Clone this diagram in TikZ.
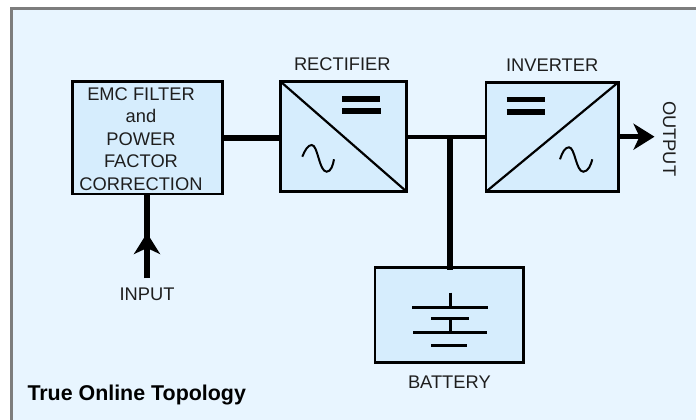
\documentclass[tikz,border=0pt]{standalone}
\usepackage{fontspec}
\setmainfont{Liberation Sans}
\usetikzlibrary{arrows.meta, positioning}
\definecolor{panelc}{RGB}{232,245,255}
\definecolor{blockc}{RGB}{214,237,253}
\definecolor{framec}{RGB}{125,125,125}
\definecolor{inkc}{RGB}{30,30,30}
\tikzset{
	block/.style={draw=black,line width=2.5pt,fill=blockc,inner sep=0pt,outer sep=0pt,anchor=north west},
	label/.style={font=\fontsize{18.3}{22.5}\selectfont,text=inkc,inner sep=0pt,outer sep=0pt},
	bus/.style={line width=5.5pt},
	arrowed/.style={line width=5.5pt,-{Stealth[length=21pt,width=26pt,inset=6pt]}},
	rail/.style={line width=5.5pt},
	cell/.style={line width=3pt},
	wave/.style={line width=2pt}
}
\begin{document}
\begin{tikzpicture}[x=1pt,y=-1pt]
	\useasboundingbox (0,0) rectangle (696,420);
	% panel, ruled on top and left only
	\fill[panelc] (11,8.5) rectangle (696,420);
	\draw[framec,line width=3pt] (11.3,420) -- (11.3,8.4) -- (696,8.4);
	% blocks
	\node[block,minimum width=150.4pt,minimum height=112.3pt] (emc) at (72.3,81.7) {};
	\node[block,minimum width=126pt,minimum height=110pt] (rect) at (280.7,81.7) {};
	\node[block,minimum width=132.3pt,minimum height=109.4pt] (inv) at (486,82.3) {};
	\node[block,minimum width=148.7pt,minimum height=95pt] (batt) at (375,267.3) {};
	% names
	\node[label,align=center,anchor=north,xshift=-6.5pt,yshift=-5.6pt] (emcname) at (emc.north) {EMC FILTER\\and\\POWER\\FACTOR\\CORRECTION};
	\node[label,above=10.7pt of rect.north,xshift=-1.4pt] (rectname) {RECTIFIER};
	\node[label,above=10.7pt of inv.north] (invname) {INVERTER};
	\node[label,below=13.6pt of batt.south] (battname) {BATTERY};
	\node[label] (inname) at (147,294) {INPUT};
	\node[label,rotate=-90] (outname) at (669.5,138.7) {OUTPUT};
	\node[font=\fontsize{21.4}{24}\bfseries\selectfont,text=black,inner sep=0pt,anchor=base west] (title) at (27.3,400.7) {True Online Topology};
	% connectors
	\coordinate (infoot) at (147,278);
	\coordinate (intip) at (147,233);
	\coordinate (outend) at (654.5,136.7);
	\coordinate (tee) at (450,137);
	\coordinate (rectout) at (rect.east |- tee);
	\coordinate (invin) at (inv.west |- tee);
	\draw[line width=6pt] (emc.east) -- (rect.west |- emc.east);
	\draw[line width=4.8pt] (rectout) -- (invin);
	\draw[bus] (tee) -- (450,270);
	\draw[bus] (infoot) -- (emc.south -| infoot);
	\draw[arrowed] (infoot) -- (intip);
	\draw[arrowed] (inv.east |- outend) -- (outend);
	% diagonals
	\draw[line width=2.2pt] (rect.north west) -- (rect.south east);
	\draw[line width=2.2pt] (inv.south west) -- (inv.north east);
	% dc marks
	\draw[rail] (342,99) -- (380,99);
	\draw[rail] (342,111) -- (381,111);
	\draw[rail] (506.7,99.5) -- (544.7,99.5);
	\draw[rail] (506.7,111.8) -- (544.7,111.8);
	% ac marks
	\draw[wave] (302.3,156.7) .. controls (305,150) and (308,145) .. (311.7,145) .. controls (318,145) and (319,171.7) .. (326.7,171.7) .. controls (331,171.7) and (333,165) .. (334,159.3);
	\draw[wave] (560,159.3) .. controls (562.5,152) and (565,147.3) .. (569,147.3) .. controls (575,147.3) and (576,171.7) .. (583.3,171.7) .. controls (588,171.7) and (591,165) .. (592.3,159.3);
	% battery symbol
	\draw[cell] (412,307.5) -- (488,307.5);
	\draw[cell] (431,318.5) -- (469,318.5);
	\draw[cell] (413,332.5) -- (487,332.5);
	\draw[cell] (431,345.5) -- (467,345.5);
	\draw[cell] (450.3,292.7) -- (450.3,307);
	\draw[cell] (450.3,318) -- (450.3,332);
\end{tikzpicture}
\end{document}
